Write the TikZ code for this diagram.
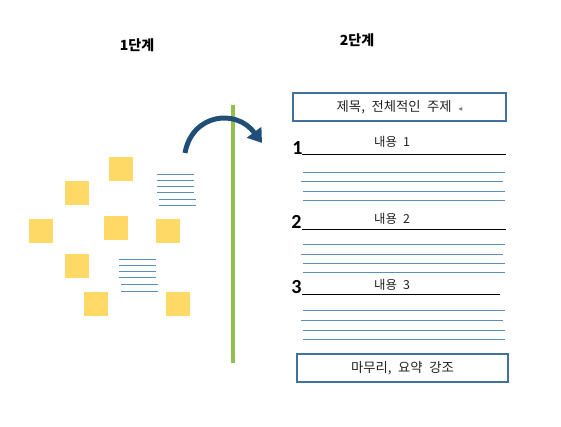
\documentclass[tikz,border=0pt]{standalone}
\usepackage{fontspec}
\setmainfont{Carlito}
\newfontfamily\krfont[WordSpace=2.2]{Noto Sans CJK KR}
\newfontfamily\djfont{DejaVu Sans}
\usetikzlibrary{arrows.meta}
\definecolor{sticky}{HTML}{FFD966}
\definecolor{grn}{HTML}{92C050}
\definecolor{navy}{HTML}{1F4E79}
\definecolor{boxb}{HTML}{41719C}
\definecolor{lineb}{HTML}{5B8FBE}
\definecolor{txt}{HTML}{222222}
\begin{document}
\begin{tikzpicture}[x=0.75pt,y=-0.75pt,
  stickynote/.style={fill=sticky, draw=none, minimum size=18pt, inner sep=0pt},
  header/.style={font=\krfont\bfseries\fontsize{10.5}{12}\selectfont, text=black},
  framebox/.style={draw=boxb, line width=1.5pt, inner sep=0pt, font=\krfont\fontsize{10}{11}\selectfont, text=txt},
  numlabel/.style={font=\bfseries\fontsize{15}{17}\selectfont, anchor=base west, inner sep=0pt},
  contentlabel/.style={font=\krfont\fontsize{9.3}{11}\selectfont, text=txt},
  rule/.style={black, line width=0.75pt},
  bluerule/.style={lineb, line width=0.7pt},
  shortrule/.style={lineb, line width=0.7pt}
]
\useasboundingbox (0,0) rectangle (561,427);

% headers
\node[header] (h1) at (137,45) {1단계};
\node[header] (h2) at (357,40) {2단계};

% sticky notes
\node[stickynote] (s1) at (121,169) {};
\node[stickynote] (s2) at (77,193) {};
\node[stickynote] (s3) at (41,231) {};
\node[stickynote] (s4) at (116,228) {};
\node[stickynote] (s5) at (168,231) {};
\node[stickynote] (s6) at (77,266) {};
\node[stickynote] (s7) at (96,304) {};
\node[stickynote] (s8) at (178,304) {};

% short line groups (left)
\foreach \yy/\dx in {174/0,180/0,186.3/0,192.7/0,199/2,205.3/2}
  \draw[shortrule] (157.3+\dx,\yy) -- (194+\dx,\yy);
\foreach \yy/\dx in {259.3/0,265.3/0,271.3/0,277.7/0,284/2,291.3/2}
  \draw[shortrule] (119.3+\dx,\yy) -- (156+\dx,\yy);

% green divider
\coordinate (gtop) at (232.5,105);
\coordinate (gbot) at (232.5,363);
\draw[grn, line width=3pt] (gtop) -- (gbot);

% curved arrow
\coordinate (astart) at (185,153);
\coordinate (aend) at (262,143);
\draw[navy, line width=3.7pt, -{Triangle[length=10pt,width=13pt]}]
  (astart) .. controls (192,114) and (236,108) .. (aend);

% title box
\node[framebox, minimum width=159.75pt, minimum height=21pt] (title) at (399.5,107)
  {제목, 전체적인 주제 {\djfont\fontsize{6}{7}\selectfont\textcolor{gray}{◂}}};

% section 1
\node[numlabel] (n1) at (292,155) {1};
\draw[rule] (302,155) -- (506,155);
\node[contentlabel] (c1) at (392,142) {내용 1};
\foreach \yy/\dx in {172.3/0,181.7/-2,191/0,200/0}
  \draw[bluerule] (303+\dx,\yy) -- (505+\dx,\yy);

% section 2
\node[numlabel] (n2) at (291,229) {2};
\draw[rule] (302,229.5) -- (506,229.5);
\node[contentlabel] (c2) at (392,219) {내용 2};
\foreach \yy/\dx in {244.3/0,254.3/-2,263.3/0,272.7/0}
  \draw[bluerule] (303+\dx,\yy) -- (505+\dx,\yy);

% section 3
\node[numlabel] (n3) at (291,294) {3};
\draw[rule] (302,295) -- (500,295);
\node[contentlabel] (c3) at (392,285) {내용 3};
\foreach \yy/\dx in {310.7/0,320/-2,330/0,339.3/0}
  \draw[bluerule] (303+\dx,\yy) -- (505+\dx,\yy);

% closing box
\node[framebox, minimum width=158.7pt, minimum height=20.8pt] (closing) at (402.5,368)
  {마무리, 요약 강조};
\end{tikzpicture}
\end{document}
